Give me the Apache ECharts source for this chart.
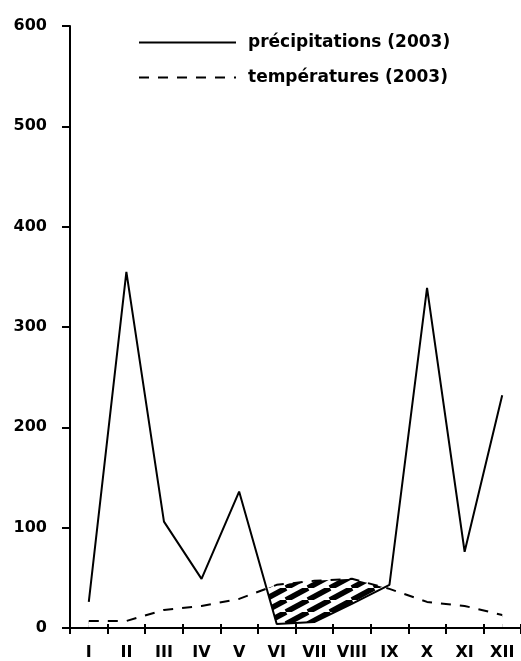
<!DOCTYPE html>
<html><head><meta charset="utf-8">
<script src="https://cdn.jsdelivr.net/npm/echarts@6/dist/echarts.min.js"></script>
<style>html,body{margin:0;padding:0;background:#fff}#c{width:521px;height:661px}</style>
</head><body><div id="c"></div>
<script>
const months = ['I','II','III','IV','V','VI','VII','VIII','IX','X','XI','XII'];
const precipitations = [26,355,106,49,136,4,6,24,43,339,76,232];
const temperatures = [7,7,18,22,29,43,47,49,39,26,22,13];
const yMin = 0, yMax = 600, yStep = 100;
const nameP = 'précipitations (2003)';
const nameT = 'températures (2003)';

const FONT = 'DejaVu Sans';
const GL = 70, GR = -6, GT = 26, GB = 32, W = 521, H = 661;
const gridW = W - GL - GR, gridH = H - GT - GB;

// diagonal hatch pattern
const pc = document.createElement('canvas');
pc.width = 22; pc.height = 12;
const ctx = pc.getContext('2d');
ctx.fillStyle = '#fff'; ctx.fillRect(0, 0, 22, 12);
ctx.strokeStyle = '#000'; ctx.lineWidth = 5.5;
for (const o of [-22, 0, 22]) { ctx.beginPath(); ctx.moveTo(o, 12); ctx.lineTo(o + 22, 0); ctx.stroke(); }

const chart = echarts.init(document.getElementById('c'));
const lbl = {fontFamily: FONT, fontWeight: 'bold', fontSize: 16, color: '#000'};
chart.setOption({
  animation: false,
  backgroundColor: '#fff',
  grid: {left: GL, right: GR, top: GT, bottom: GB, containLabel: false},
  legend: {
    data: [{name: nameP}, {name: nameT}],
    orient: 'vertical', left: 138, top: 34, padding: 0,
    itemWidth: 97, itemHeight: 14, itemGap: 18,
    itemStyle: {opacity: 0},
    textStyle: Object.assign({}, lbl, {fontSize: 17, padding: [0, 0, 0, 7], lineHeight: 14})
  },
  xAxis: [{
    type: 'category', data: months, boundaryGap: true, z: 10,
    axisLine: {lineStyle: {color: '#000', width: 2}},
    axisTick: {show: true, length: 6, lineStyle: {color: '#000', width: 2}},
    axisLabel: Object.assign({margin: 17, interval: 0}, lbl)
  }, {
    type: 'category', data: months, boundaryGap: true, position: 'top', offset: -gridH, z: 10,
    axisLine: {show: false},
    axisTick: {show: true, length: 5, lineStyle: {color: '#000', width: 2}},
    axisLabel: {show: false}
  }],
  yAxis: [{
    type: 'value', min: yMin, max: yMax, interval: yStep, z: 10,
    splitLine: {show: false},
    axisLine: {show: true, lineStyle: {color: '#000', width: 2}},
    axisTick: {show: true, length: 8, lineStyle: {color: '#000', width: 2}},
    axisLabel: Object.assign({margin: 23}, lbl)
  }, {
    type: 'value', min: yMin, max: yMax, interval: yStep, position: 'right', offset: -gridW, z: 10,
    splitLine: {show: false},
    axisLine: {show: false},
    axisTick: {show: true, length: 5, lineStyle: {color: '#000', width: 2}},
    axisLabel: {show: false}
  }],
  series: [{
    name: '_hatch', type: 'line', data: temperatures, symbol: 'none', silent: true, z: 1,
    lineStyle: {width: 0, opacity: 0},
    areaStyle: {color: {image: pc, repeat: 'repeat'}, opacity: 1}
  }, {
    name: nameP, type: 'line', data: precipitations, symbol: 'none', z: 2,
    lineStyle: {color: '#000', width: 2},
    itemStyle: {color: '#000'},
    areaStyle: {color: '#fff', opacity: 1}
  }, {
    name: nameT, type: 'line', data: temperatures, symbol: 'none', z: 3,
    lineStyle: {color: '#000', width: 2, type: [10, 9]},
    itemStyle: {color: '#000'}
  }]
});
</script></body></html>
